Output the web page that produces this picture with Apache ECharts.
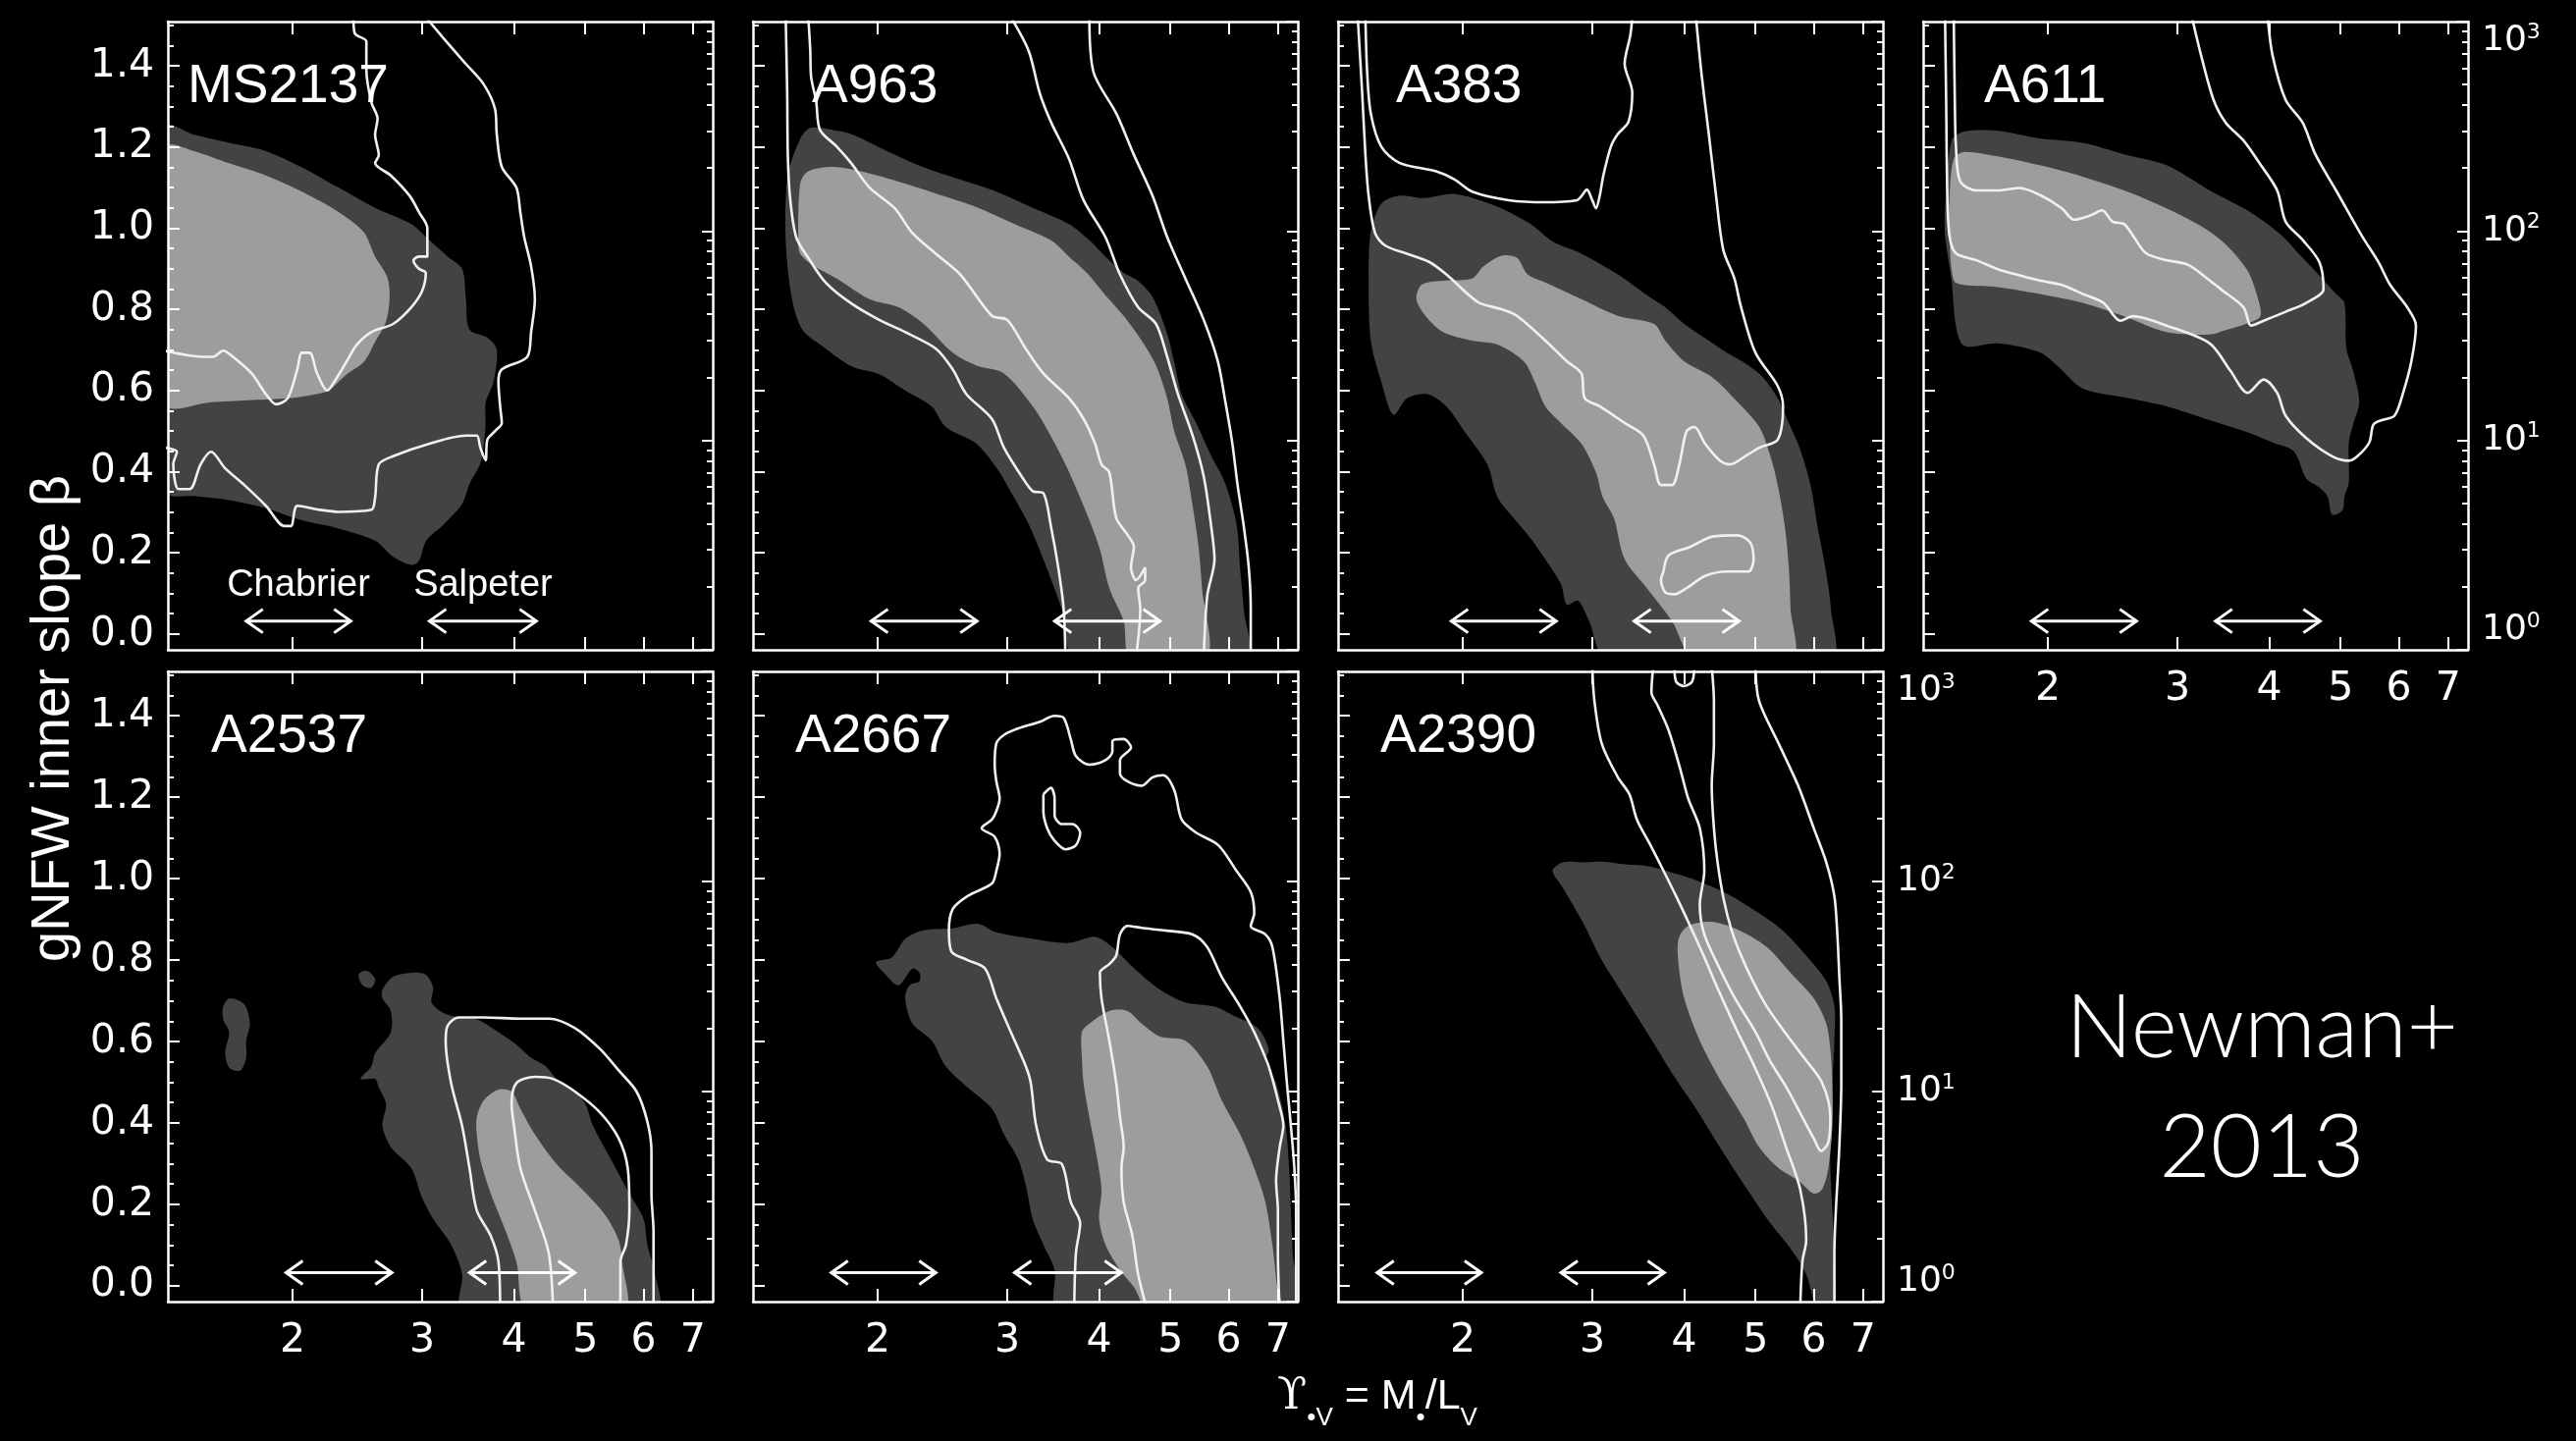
<!DOCTYPE html>
<html><head><meta charset="utf-8">
<script src="https://cdn.jsdelivr.net/npm/echarts@6/dist/echarts.min.js"></script>
<style>html,body{margin:0;padding:0;background:#000;}#c{width:2624px;height:1468px;}</style>
</head><body><div id="c"></div>
<script>
// ---------- axis ticks / labels ----------
const xTickValues = [2, 3, 4, 5, 6, 7];
const yTickValues = [0.0, 0.2, 0.4, 0.6, 0.8, 1.0, 1.2, 1.4];
const massDecades = [0, 1, 2, 3];           // 10^0 .. 10^3
const panelNames = ['MS2137', 'A963', 'A383', 'A611', 'A2537', 'A2667', 'A2390'];
const imfNames = ['Chabrier', 'Salpeter'];

// ---------- MS2137 ----------
const ms2137Dark = [[1.35,1.25],[1.47,1.23],[1.64,1.21],[1.84,1.19],[2.06,1.15],[2.31,1.10],[2.59,1.05],[2.90,1.01],[3.07,0.97],[3.25,0.93],[3.40,0.90],[3.44,0.83],[3.48,0.75],[3.68,0.73],[3.79,0.70],[3.75,0.62],[3.66,0.57],[3.66,0.52],[3.64,0.47],[3.60,0.42],[3.48,0.37],[3.40,0.32],[3.21,0.27],[3.04,0.23],[2.97,0.18],[2.90,0.17],[2.74,0.19],[2.59,0.23],[2.31,0.26],[2.06,0.28],[1.84,0.31],[1.64,0.33],[1.47,0.34],[1.35,0.35]];
const ms2137Light = [[1.35,1.20],[1.47,1.19],[1.64,1.16],[1.84,1.13],[2.06,1.09],[2.31,1.04],[2.50,0.99],[2.59,0.93],[2.69,0.88],[2.71,0.83],[2.68,0.77],[2.59,0.72],[2.50,0.67],[2.37,0.64],[2.24,0.60],[2.14,0.59],[1.95,0.58],[1.74,0.576],[1.55,0.571],[1.35,0.566]];
const ms2137Line68 = [[2.42,1.52],[2.43,1.48],[2.52,1.46],[2.52,1.39],[2.56,1.31],[2.61,1.27],[2.59,1.23],[2.62,1.18],[2.59,1.16],[2.72,1.13],[2.885,1.08],[2.97,1.04],[3.05,1.00],[3.05,0.93],[2.97,0.93],[2.92,0.92],[2.97,0.90],[3.035,0.89],[3.0,0.845],[2.90,0.805],[2.74,0.764],[2.56,0.744],[2.446,0.713],[2.37,0.672],[2.28,0.622],[2.23,0.60],[2.16,0.642],[2.11,0.693],[2.06,0.693],[2.03,0.652],[1.97,0.581],[1.90,0.566],[1.84,0.591],[1.76,0.642],[1.66,0.683],[1.61,0.698],[1.56,0.683],[1.52,0.683],[1.43,0.688],[1.34,0.698]];
const ms2137Line95 = [[3.035,1.52],[3.25,1.456],[3.44,1.405],[3.64,1.354],[3.77,1.293],[3.79,1.232],[3.85,1.151],[4.03,1.10],[4.08,1.039],[4.13,0.978],[4.22,0.906],[4.27,0.825],[4.22,0.744],[4.17,0.683],[3.85,0.652],[3.81,0.622],[3.83,0.561],[3.85,0.52],[3.77,0.50],[3.68,0.479],[3.66,0.428],[3.60,0.459],[3.56,0.489],[3.44,0.489],[3.07,0.469],[2.74,0.438],[2.62,0.418],[2.59,0.337],[2.56,0.306],[2.31,0.301],[2.18,0.306],[2.03,0.316],[1.99,0.266],[1.95,0.266],[1.84,0.316],[1.72,0.367],[1.62,0.408],[1.55,0.449],[1.50,0.418],[1.45,0.357],[1.40,0.357],[1.377,0.418],[1.393,0.449],[1.34,0.459]];
const ms2137Arrows = [[1.73,2.40],[3.07,4.29]];

// ---------- A963 ----------
const a963Dark = [[1.50,0.97],[1.51,1.13],[1.57,1.22],[1.62,1.247],[1.74,1.242],[1.84,1.232],[2.06,1.19],[2.31,1.15],[2.59,1.12],[2.90,1.09],[3.25,1.05],[3.64,1.01],[3.88,0.97],[4.08,0.93],[4.32,0.89],[4.52,0.87],[4.73,0.83],[4.95,0.74],[5.06,0.67],[5.18,0.59],[5.42,0.52],[5.68,0.44],[5.94,0.37],[6.15,0.27],[6.22,0.16],[6.29,0.06],[6.33,-0.06],[3.72,-0.06],[3.56,0.06],[3.40,0.16],[3.21,0.27],[3.035,0.35],[2.90,0.41],[2.72,0.47],[2.475,0.51],[2.37,0.56],[2.18,0.60],[2.01,0.64],[1.84,0.66],[1.68,0.71],[1.58,0.75],[1.53,0.825]];
const a963Light = [[1.56,0.97],[1.57,1.11],[1.61,1.14],[1.74,1.151],[1.95,1.135],[2.18,1.11],[2.45,1.08],[2.74,1.05],[3.07,1.01],[3.44,0.97],[3.64,0.93],[3.85,0.89],[4.08,0.835],[4.32,0.784],[4.57,0.723],[4.78,0.662],[4.95,0.581],[5.06,0.50],[5.24,0.418],[5.36,0.316],[5.46,0.215],[5.52,0.113],[5.59,-0.06],[4.42,-0.06],[4.32,0.032],[4.13,0.113],[4.0,0.215],[3.81,0.316],[3.60,0.418],[3.41,0.50],[3.25,0.561],[2.97,0.642],[2.72,0.662],[2.53,0.693],[2.31,0.764],[2.135,0.805],[1.95,0.825],[1.76,0.876],[1.64,0.906],[1.57,0.937]];
const a963LineA = [[1.50,1.52],[1.507,1.334],[1.51,1.181],[1.52,1.079],[1.55,0.978],[1.61,0.927],[1.70,0.866],[1.84,0.815],[2.01,0.774],[2.18,0.744],[2.40,0.703],[2.53,0.652],[2.64,0.591],[2.86,0.53],[2.97,0.459],[3.14,0.388],[3.25,0.352],[3.36,0.347],[3.44,0.266],[3.52,0.164],[3.58,0.062],[3.60,-0.06]];
const a963LineB = [[1.61,1.52],[1.62,1.436],[1.624,1.374],[1.65,1.313],[1.67,1.242],[1.76,1.201],[1.84,1.161],[1.95,1.10],[2.11,1.049],[2.23,0.988],[2.40,0.937],[2.59,0.886],[2.86,0.784],[3.0,0.774],[3.18,0.703],[3.36,0.642],[3.64,0.581],[3.81,0.53],[3.95,0.469],[4.03,0.418],[4.13,0.398],[4.22,0.286],[4.37,0.245],[4.46,0.215],[4.42,0.164],[4.49,0.133],[4.62,0.164],[4.62,0.133],[4.52,0.113],[4.55,0.062],[4.49,-0.06]];
const a963LineC = [[3.035,1.52],[3.21,1.436],[3.32,1.334],[3.44,1.262],[3.64,1.171],[3.81,1.069],[4.08,0.978],[4.27,0.886],[4.52,0.805],[4.78,0.764],[4.95,0.683],[5.12,0.591],[5.36,0.489],[5.55,0.388],[5.68,0.266],[5.74,0.184],[5.61,0.093],[5.55,-0.06]];
const a963LineD = [[3.88,1.52],[3.93,1.385],[4.22,1.283],[4.46,1.181],[4.73,1.079],[4.95,0.978],[5.24,0.876],[5.55,0.774],[5.80,0.672],[5.94,0.571],[6.07,0.469],[6.17,0.367],[6.29,0.266],[6.39,0.164],[6.43,0.062],[6.43,-0.06]];
const a963Arrows = [[1.96,2.73],[3.48,4.84]];

// ---------- A383 ----------
const a383Dark = [[1.50,0.99],[1.55,1.06],[1.64,1.08],[1.77,1.074],[1.95,1.084],[2.18,1.06],[2.31,1.04],[2.475,1.01],[2.65,0.967],[2.90,0.937],[3.25,0.886],[3.56,0.835],[3.77,0.805],[4.0,0.764],[4.32,0.723],[4.57,0.693],[4.89,0.662],[5.12,0.632],[5.36,0.581],[5.55,0.52],[5.74,0.459],[5.94,0.367],[6.07,0.266],[6.22,0.164],[6.33,0.062],[6.33,-0.06],[3.14,-0.06],[2.97,0.032],[2.87,0.082],[2.77,0.072],[2.72,0.123],[2.59,0.184],[2.475,0.235],[2.37,0.276],[2.23,0.337],[2.16,0.418],[2.01,0.50],[1.90,0.561],[1.79,0.591],[1.68,0.581],[1.61,0.54],[1.55,0.622],[1.50,0.723],[1.49,0.876]];
const a383Light = [[1.73,0.825],[1.76,0.861],[1.90,0.871],[2.06,0.876],[2.135,0.906],[2.26,0.932],[2.37,0.927],[2.45,0.886],[2.59,0.866],[2.90,0.825],[3.25,0.784],[3.64,0.764],[3.77,0.723],[4.0,0.672],[4.37,0.632],[4.73,0.571],[5.06,0.51],[5.24,0.438],[5.36,0.367],[5.48,0.266],[5.55,0.164],[5.58,0.062],[5.61,-0.06],[4.13,-0.06],[3.85,0.032],[3.56,0.113],[3.32,0.184],[3.21,0.286],[3.10,0.337],[3.035,0.398],[2.90,0.469],[2.72,0.52],[2.59,0.561],[2.505,0.622],[2.42,0.672],[2.23,0.713],[2.06,0.723],[1.88,0.744],[1.78,0.784]];
const a383LineA = [[1.44,1.52],[1.46,1.334],[1.475,1.181],[1.49,1.079],[1.52,0.988],[1.57,0.957],[1.68,0.937],[1.80,0.917],[1.90,0.886],[2.04,0.835],[2.11,0.815],[2.26,0.80],[2.37,0.784],[2.59,0.723],[2.77,0.672],[2.90,0.642],[2.93,0.581],[3.07,0.561],[3.32,0.52],[3.52,0.489],[3.64,0.418],[3.72,0.367],[3.85,0.367],[3.94,0.418],[4.03,0.50],[4.13,0.51],[4.27,0.469],[4.47,0.428],[4.62,0.418],[4.84,0.438],[5.06,0.459],[5.36,0.479],[5.45,0.561],[5.36,0.611],[5.0,0.693],[4.78,0.805],[4.68,0.876],[4.52,0.947],[4.42,1.079],[4.32,1.232],[4.22,1.385],[4.15,1.52]];
const a383LineB = [[1.475,1.52],[1.483,1.385],[1.50,1.283],[1.55,1.201],[1.64,1.161],[1.84,1.14],[1.95,1.12],[2.06,1.09],[2.31,1.069],[2.59,1.064],[2.86,1.069],[2.90,1.079],[2.95,1.095],[3.0,1.069],[3.035,1.049],[3.07,1.079],[3.106,1.13],[3.18,1.201],[3.25,1.232],[3.36,1.262],[3.40,1.334],[3.32,1.405],[3.38,1.476],[3.40,1.52]];
const a383Loop = [[3.75,0.154],[3.81,0.194],[4.08,0.215],[4.37,0.24],[4.73,0.243],[4.92,0.225],[4.97,0.184],[4.89,0.154],[4.57,0.154],[4.27,0.143],[4.03,0.113],[3.88,0.098],[3.77,0.103],[3.72,0.133],[3.75,0.154]];
const a383Arrows = [[1.93,2.68],[3.42,4.75]];

// ---------- A611 ----------
const a611Dark = [[1.45,1.05],[1.48,1.216],[1.54,1.238],[1.71,1.24],[1.95,1.221],[2.23,1.21],[2.54,1.182],[2.90,1.155],[3.32,1.093],[3.78,1.038],[4.16,0.982],[4.44,0.927],[4.68,0.883],[4.93,0.838],[5.06,0.816],[5.09,0.705],[5.20,0.649],[5.30,0.572],[5.20,0.516],[5.13,0.472],[5.13,0.372],[5.06,0.339],[5.03,0.305],[4.87,0.294],[4.80,0.339],[4.68,0.361],[4.49,0.383],[4.32,0.45],[4.04,0.472],[3.78,0.494],[3.32,0.527],[2.90,0.561],[2.54,0.583],[2.23,0.605],[2.06,0.661],[1.95,0.694],[1.71,0.716],[1.54,0.71],[1.50,0.76],[1.48,0.871],[1.45,0.982]];
const a611Light = [[1.47,1.071],[1.49,1.171],[1.54,1.188],[1.71,1.177],[1.95,1.155],[2.23,1.127],[2.54,1.093],[2.90,1.049],[3.23,1.005],[3.49,0.96],[3.74,0.894],[3.86,0.827],[3.89,0.783],[3.74,0.766],[3.49,0.749],[3.32,0.738],[2.90,0.744],[2.54,0.783],[2.23,0.816],[1.95,0.838],[1.71,0.855],[1.54,0.86],[1.49,0.871],[1.47,0.982]];
const a611LineA = [[1.45,1.52],[1.455,1.316],[1.46,1.093],[1.47,0.982],[1.50,0.938],[1.60,0.921],[1.71,0.899],[1.95,0.871],[2.09,0.86],[2.23,0.838],[2.38,0.816],[2.51,0.772],[2.61,0.783],[2.90,0.76],[3.32,0.716],[3.54,0.649],[3.74,0.594],[3.93,0.627],[4.10,0.594],[4.21,0.538],[4.49,0.483],[4.87,0.438],[5.13,0.427],[5.27,0.438],[5.47,0.472],[5.54,0.516],[5.69,0.527],[5.92,0.538],[6.08,0.594],[6.24,0.672],[6.33,0.76],[6.16,0.805],[5.84,0.86],[5.63,0.916],[5.34,0.982],[4.93,1.093],[4.62,1.182],[4.44,1.26],[4.21,1.316],[4.04,1.427],[3.98,1.52]];
const a611LineB = [[1.49,1.52],[1.495,1.316],[1.50,1.205],[1.52,1.116],[1.60,1.093],[1.71,1.093],[1.83,1.099],[1.95,1.082],[2.09,1.049],[2.17,1.021],[2.29,1.032],[2.37,1.044],[2.45,1.016],[2.54,1.01],[2.61,0.982],[2.72,0.938],[2.90,0.921],[3.10,0.91],[3.32,0.871],[3.44,0.849],[3.69,0.805],[3.78,0.76],[3.93,0.772],[4.21,0.794],[4.49,0.816],[4.74,0.849],[4.68,0.916],[4.44,0.971],[4.21,1.016],[4.10,1.093],[3.88,1.16],[3.69,1.216],[3.49,1.26],[3.36,1.316],[3.23,1.427],[3.14,1.52]];
const a611Arrows = [[1.90,2.64],[3.38,4.69]];

// ---------- A2537 ----------
const a2537DarkA = [[1.61,0.686],[1.643,0.706],[1.72,0.691],[1.75,0.644],[1.73,0.602],[1.73,0.56],[1.70,0.529],[1.643,0.534],[1.62,0.571],[1.64,0.623],[1.61,0.654]];
const a2537DarkB = [[2.46,0.764],[2.52,0.774],[2.59,0.753],[2.56,0.732],[2.49,0.738]];
const a2537DarkC = [[2.65,0.727],[2.74,0.759],[2.90,0.769],[3.035,0.764],[3.106,0.732],[3.09,0.696],[3.21,0.67],[3.36,0.659],[3.56,0.654],[3.81,0.623],[4.03,0.592],[4.22,0.56],[4.42,0.539],[4.57,0.508],[4.78,0.487],[5.0,0.446],[5.12,0.393],[5.42,0.31],[5.74,0.226],[6.0,0.164],[6.07,0.101],[6.22,0.028],[6.26,-0.06],[3.40,-0.06],[3.40,0.028],[3.285,0.101],[3.106,0.164],[3.0,0.216],[2.90,0.289],[2.72,0.341],[2.65,0.393],[2.68,0.446],[2.62,0.487],[2.59,0.508],[2.475,0.508],[2.56,0.539],[2.59,0.571],[2.72,0.623],[2.72,0.675],[2.65,0.706]];
const a2537Light = [[3.56,0.414],[3.64,0.456],[3.81,0.482],[3.97,0.477],[4.08,0.435],[4.27,0.372],[4.57,0.299],[4.95,0.237],[5.32,0.174],[5.55,0.112],[5.61,0.059],[5.65,-0.06],[4.17,-0.06],[4.03,0.059],[3.88,0.143],[3.72,0.226],[3.60,0.31],[3.56,0.372]];
const a2537LineA = [[3.83,-0.06],[3.81,0.059],[3.72,0.122],[3.56,0.185],[3.48,0.289],[3.40,0.393],[3.285,0.498],[3.23,0.602],[3.25,0.639],[3.36,0.659],[3.64,0.659],[4.08,0.656],[4.46,0.656],[4.84,0.633],[5.24,0.581],[5.55,0.529],[5.87,0.477],[6.07,0.404],[6.15,0.331],[6.15,0.226],[6.19,0.133],[6.19,0.028],[6.19,-0.06]];
const a2537LineB = [[4.52,-0.06],[4.46,0.08],[4.27,0.185],[4.08,0.289],[4.0,0.393],[3.97,0.446],[4.03,0.498],[4.27,0.513],[4.52,0.508],[4.84,0.477],[5.24,0.425],[5.55,0.362],[5.71,0.289],[5.74,0.185],[5.68,0.101],[5.58,0.059],[5.58,-0.06]];
const a2537Arrows = [[1.96,2.73],[3.48,4.84]];

// ---------- A2667 ----------
const a2667Dark = [[1.99,0.795],[2.09,0.806],[2.18,0.852],[2.31,0.873],[2.53,0.878],[2.74,0.889],[2.90,0.868],[3.25,0.852],[3.64,0.842],[3.95,0.857],[4.17,0.832],[4.46,0.78],[4.84,0.727],[5.24,0.696],[5.74,0.686],[6.07,0.665],[6.57,0.633],[6.80,0.581],[6.73,0.55],[6.96,0.498],[7.17,0.393],[7.25,0.289],[7.29,0.185],[7.33,0.08],[7.37,-0.06],[3.52,-0.06],[3.48,0.039],[3.36,0.101],[3.25,0.164],[3.18,0.247],[3.106,0.31],[2.97,0.372],[2.86,0.435],[2.65,0.487],[2.475,0.539],[2.37,0.602],[2.23,0.644],[2.18,0.706],[2.21,0.738],[2.28,0.748],[2.28,0.769],[2.23,0.779],[2.135,0.738],[2.04,0.769]];
const a2667Light = [[3.79,0.623],[3.88,0.644],[4.13,0.675],[4.37,0.675],[4.57,0.644],[4.84,0.612],[5.24,0.602],[5.61,0.539],[5.87,0.456],[6.22,0.372],[6.50,0.289],[6.73,0.206],[6.88,0.101],[6.96,0.018],[7.0,-0.06],[4.68,-0.06],[4.46,-0.003],[4.27,0.039],[4.08,0.101],[4.0,0.164],[4.03,0.237],[3.95,0.341],[3.88,0.414],[3.81,0.498],[3.79,0.56]];
const a2667LineA = [[3.70,-0.06],[3.72,0.08],[3.77,0.153],[3.66,0.206],[3.56,0.299],[3.40,0.31],[3.285,0.393],[3.23,0.498],[3.18,0.539],[3.035,0.623],[2.90,0.706],[2.80,0.779],[2.65,0.80],[2.52,0.821],[2.50,0.873],[2.53,0.925],[2.65,0.957],[2.86,0.988],[2.90,1.019],[2.93,1.061],[2.885,1.103],[2.77,1.124],[2.86,1.145],[2.90,1.166],[2.93,1.197],[2.90,1.239],[2.885,1.28],[2.90,1.332],[2.97,1.353],[3.106,1.369],[3.32,1.385],[3.48,1.40],[3.58,1.395],[3.66,1.343],[3.72,1.301],[3.88,1.28],[4.08,1.291],[4.17,1.312],[4.17,1.338],[4.32,1.343],[4.42,1.322],[4.27,1.291],[4.27,1.259],[4.37,1.239],[4.57,1.228],[4.73,1.249],[4.89,1.254],[5.06,1.218],[5.18,1.145],[5.42,1.113],[5.81,1.082],[6.15,1.019],[6.43,0.967],[6.50,0.915],[6.43,0.883],[6.73,0.863],[6.88,0.832],[7.04,0.706],[7.12,0.602],[7.20,0.498],[7.29,0.393],[7.37,0.289],[7.41,0.185],[7.41,0.08],[7.41,-0.06]];
const a2667LineB = [[4.65,-0.06],[4.52,0.028],[4.44,0.122],[4.32,0.206],[4.29,0.289],[4.32,0.341],[4.27,0.414],[4.22,0.498],[4.13,0.602],[4.03,0.706],[4.01,0.769],[4.13,0.79],[4.22,0.811],[4.27,0.863],[4.37,0.884],[4.57,0.879],[4.89,0.873],[5.36,0.863],[5.61,0.832],[5.87,0.759],[6.22,0.686],[6.50,0.623],[6.80,0.539],[7.0,0.456],[7.12,0.393],[7.04,0.341],[6.96,0.258],[7.0,0.185],[7.0,0.08],[7.04,-0.06]];
const a2667Loop = [[3.36,1.207],[3.44,1.223],[3.48,1.197],[3.48,1.155],[3.56,1.134],[3.68,1.134],[3.77,1.113],[3.72,1.082],[3.60,1.072],[3.48,1.093],[3.40,1.124],[3.36,1.166],[3.36,1.207]];
const a2667Arrows = [[1.73,2.40],[3.07,4.29]];

// ---------- A2390 ----------
const a2390Dark = [[2.65,1.019],[2.735,1.04],[2.91,1.04],[3.09,1.042],[3.33,1.035],[3.59,1.03],[3.95,1.009],[4.26,0.988],[4.64,0.957],[5.055,0.915],[5.44,0.873],[5.86,0.811],[6.24,0.748],[6.40,0.686],[6.40,0.602],[6.36,0.498],[6.32,0.393],[6.32,0.289],[6.36,0.185],[6.40,0.08],[6.40,-0.06],[6.08,-0.06],[5.86,0.028],[5.58,0.091],[5.24,0.153],[4.87,0.237],[4.47,0.341],[4.15,0.435],[3.86,0.519],[3.59,0.612],[3.33,0.706],[3.09,0.80],[2.91,0.894],[2.735,0.978]];
const a2390Light = [[3.93,0.852],[4.05,0.884],[4.36,0.894],[4.75,0.873],[5.18,0.832],[5.58,0.769],[6.0,0.706],[6.24,0.644],[6.32,0.581],[6.36,0.498],[6.36,0.393],[6.28,0.289],[6.16,0.237],[6.0,0.226],[5.72,0.258],[5.375,0.289],[5.055,0.341],[4.81,0.414],[4.47,0.508],[4.2,0.602],[4.0,0.706],[3.93,0.79]];
const a2390LineA = [[3.0,1.52],[3.02,1.437],[3.09,1.332],[3.25,1.249],[3.37,1.207],[3.45,1.145],[3.60,1.082],[3.75,1.019],[3.90,0.957],[4.05,0.894],[4.25,0.811],[4.45,0.727],[4.70,0.633],[4.95,0.55],[5.25,0.446],[5.50,0.341],[5.75,0.237],[5.86,0.112],[5.79,0.059],[5.75,-0.06]];
const a2390LineB = [[3.63,1.52],[3.61,1.458],[3.68,1.426],[3.81,1.364],[3.95,1.27],[4.05,1.197],[4.2,1.124],[4.26,1.019],[4.2,0.936],[4.26,0.863],[4.47,0.779],[4.69,0.706],[5.0,0.623],[5.24,0.55],[5.51,0.487],[5.79,0.414],[6.0,0.362],[6.14,0.331],[6.28,0.352],[6.32,0.414],[6.16,0.498],[5.82,0.56],[5.48,0.623],[5.18,0.686],[4.96,0.748],[4.78,0.811],[4.64,0.873],[4.53,0.946],[4.44,1.04],[4.39,1.124],[4.36,1.228],[4.39,1.332],[4.39,1.437],[4.36,1.52]];
const a2390LineC = [[5.0,1.52],[5.055,1.437],[5.375,1.332],[5.715,1.228],[6.0,1.124],[6.24,1.04],[6.40,0.957],[6.46,0.863],[6.50,0.759],[6.54,0.654],[6.54,0.498],[6.50,0.341],[6.43,0.185],[6.40,0.08],[6.40,-0.06]];
const a2390Loop = [[3.88,1.52],[3.90,1.484],[4.0,1.473],[4.10,1.484],[4.13,1.52]];
const a2390Arrows = [[1.53,2.12],[2.72,3.76]];

// ---------- assemble ----------
const panels = [
  {dark:[ms2137Dark], light:[ms2137Light], lines:[ms2137Line68, ms2137Line95], arrows:ms2137Arrows, imf:true},
  {dark:[a963Dark], light:[a963Light], lines:[a963LineA, a963LineB, a963LineC, a963LineD], arrows:a963Arrows},
  {dark:[a383Dark], light:[a383Light], lines:[a383LineA, a383LineB, a383Loop], arrows:a383Arrows},
  {dark:[a611Dark], light:[a611Light], lines:[a611LineA, a611LineB], arrows:a611Arrows},
  {dark:[a2537DarkA, a2537DarkB, a2537DarkC], light:[a2537Light], lines:[a2537LineA, a2537LineB], arrows:a2537Arrows},
  {dark:[a2667Dark], light:[a2667Light], lines:[a2667LineA, a2667LineB, a2667Loop], arrows:a2667Arrows},
  {dark:[a2390Dark], light:[a2390Light], lines:[a2390LineA, a2390LineB, a2390LineC, a2390Loop], arrows:a2390Arrows}
];

// ---------- layout ----------
const L10 = Math.log10;
const X_MIN = 1.354, X_MAX = 7.45, Y_MIN = -0.039, Y_MAX = 1.509;
const colLeft = [171, 767, 1363, 1959], PW = 555;
const rowTop = [22, 684], rowH = [640, 642];
const cell = [[0,0],[1,0],[2,0],[3,0],[0,1],[1,1],[2,1]];
const nameOffset = [20, 60, 59, 62, 44, 43, 43];
const showXLabels = [false,false,false,true,true,true,true];
const showYLabels = [true,false,false,false,true,false,false];
const showRLabels = [false,false,false,true,false,false,true];
const DARK = '#434343', LIGHT = '#9d9d9d', LINE = '#f0f0f0', WHITE = '#ffffff';
const TICKFONT = 'DejaVu Sans';

const yMinor = []; for (let i = 0; i <= 30; i++) yMinor.push(+(i*0.05).toFixed(2));
const mMinor = []; [0,1,2].forEach(d => { for (let k = 2; k <= 9; k++) mMinor.push(d + L10(k)); });

const grids = [], xAxes = [], yAxes = [], series = [];
const axLine = {show:true, onZero:false, lineStyle:{color:WHITE, width:2.5}};
const noLine = {show:false, onZero:false};

cell.forEach((c, g) => {
  grids.push({left: colLeft[c[0]], top: rowTop[c[1]], width: PW, height: rowH[c[1]]});
  const xt = xTickValues.map(L10);
  ['bottom','top'].forEach((pos, k) => {
    xAxes.push({gridIndex:g, type:'value', position:pos, min:L10(X_MIN), max:L10(X_MAX), z:10,
      axisLine:axLine, splitLine:{show:false},
      axisTick:{show:true, inside:true, length:13, lineStyle:{color:WHITE, width:2}, customValues:xt},
      axisLabel:{show: k===0 && showXLabels[g], customValues:xt, formatter:v => String(Math.round(Math.pow(10, v))),
        color:WHITE, fontSize:41, fontFamily:TICKFONT, margin:20}});
  });
  yAxes.push({gridIndex:g, type:'value', position:'left', min:Y_MIN, max:Y_MAX, z:10, axisLine:axLine, splitLine:{show:false},
    axisTick:{show:true, inside:true, length:12, lineStyle:{color:WHITE, width:2}, customValues:yTickValues},
    axisLabel:{show:showYLabels[g], customValues:yTickValues, formatter:v => v.toFixed(1), color:WHITE, fontSize:41, fontFamily:TICKFONT, margin:14}});
  yAxes.push({gridIndex:g, type:'value', position:'left', min:Y_MIN, max:Y_MAX, z:10, axisLine:noLine, splitLine:{show:false},
    axisTick:{show:true, inside:true, length:6, lineStyle:{color:WHITE, width:2}, customValues:yMinor}, axisLabel:{show:false}});
  yAxes.push({gridIndex:g, type:'value', position:'right', min:0, max:3, z:10, axisLine:axLine, splitLine:{show:false},
    axisTick:{show:true, inside:true, length:11, lineStyle:{color:WHITE, width:2}, customValues:massDecades},
    axisLabel:{show:showRLabels[g], customValues:massDecades, margin:14,
      verticalAlignMinLabel:'bottom', verticalAlignMaxLabel:'top',
      formatter:v => '{b|10}{s|' + Math.round(v) + '}',
      rich:{b:{fontSize:36, fontFamily:TICKFONT, color:WHITE, lineHeight:40},
            s:{fontSize:22, fontFamily:TICKFONT, color:WHITE, lineHeight:22, verticalAlign:'top'}}}});
  yAxes.push({gridIndex:g, type:'value', position:'right', min:0, max:3, z:10, axisLine:noLine, splitLine:{show:false},
    axisTick:{show:true, inside:true, length:6, lineStyle:{color:WHITE, width:2}, customValues:mMinor}, axisLabel:{show:false}});

  const p = panels[g];
  const xi = 2*g, yi = 4*g;
  const poly = (pts, color) => {
    const d = pts.map(q => [L10(q[0]), q[1]]);
    series.push({type:'custom', xAxisIndex:xi, yAxisIndex:yi, clip:true, silent:true, z:2,
      data:[d[0]],
      renderItem:(params, api) => ({type:'polygon', shape:{points:d.map(q => api.coord(q)), smooth:0.3}, style:{fill:color}})});
  };
  p.dark.forEach(s => poly(s, DARK));
  p.light.forEach(s => poly(s, LIGHT));
  p.lines.forEach(s => series.push({type:'line', xAxisIndex:xi, yAxisIndex:yi, silent:true, z:3, clip:true,
    symbol:'none', smooth:0.3, lineStyle:{color:LINE, width:2.6},
    data:s.map(q => [L10(q[0]), q[1]])}));
  series.push({type:'custom', xAxisIndex:xi, yAxisIndex:yi, silent:true, z:4,
    data:p.arrows.map((a, i) => [L10(a[0]), L10(a[1]), 0.032, i]),
    renderItem:(params, api) => {
      const y = api.value(2);
      const p1 = api.coord([api.value(0), y]), p2 = api.coord([api.value(1), y]);
      const hl = 17, hw = 12, st = {stroke:WHITE, lineWidth:3, fill:null};
      const kids = [
        {type:'line', shape:{x1:p1[0], y1:p1[1], x2:p2[0], y2:p2[1]}, style:st},
        {type:'polyline', shape:{points:[[p1[0]+hl, p1[1]-hw], p1, [p1[0]+hl, p1[1]+hw]]}, style:st},
        {type:'polyline', shape:{points:[[p2[0]-hl, p2[1]-hw], p2, [p2[0]-hl, p2[1]+hw]]}, style:st}
      ];
      if (p.imf) {
        const c = api.coord([(api.value(0) + api.value(1)) / 2, 0.073]);
        kids.push({type:'text', x:c[0], y:c[1], style:{text:imfNames[api.value(3)], fill:WHITE, fontSize:38,
          fontFamily:'Liberation Sans', align:'center', verticalAlign:'bottom'}});
      }
      return {type:'group', children:kids};
    }});
});

const graphic = panelNames.map((n, g) => ({type:'text', x: colLeft[cell[g][0]] + nameOffset[g], y: rowTop[cell[g][1]] + 67, z:20,
  style:{text:n, fill:WHITE, fontSize:55, fontFamily:'Liberation Sans', verticalAlign:'middle'}}));
graphic.push({type:'text', x:55, y:732, rotation:Math.PI/2, z:20,
  style:{text:'gNFW inner slope β', fill:WHITE, fontSize:56, fontFamily:'Liberation Sans', align:'center', verticalAlign:'middle'}});
graphic.push({type:'text', x:1403, y:1430, z:20,
  style:{text:'{u|ϒ}{s|•V}{m| = M}{s|•}{m|/L}{s|V}', align:'center', verticalAlign:'middle',
    rich:{u:{fontSize:44, fontFamily:'DejaVu Serif', fill:WHITE, color:WHITE, lineHeight:56, verticalAlign:'top'},
          m:{fontSize:43, fontFamily:'Liberation Sans', fill:WHITE, color:WHITE, lineHeight:56, verticalAlign:'top'},
          s:{fontSize:26, fontFamily:'Liberation Sans', fill:WHITE, color:WHITE, lineHeight:26, verticalAlign:'bottom'}}}});
graphic.push({type:'text', x:2304, y:1048, z:20,
  style:{text:'Newman+', fill:WHITE, fontSize:90, fontWeight:300, fontFamily:'Lato', align:'center', verticalAlign:'middle'}});
graphic.push({type:'text', x:2304, y:1170, z:20,
  style:{text:'2013', fill:WHITE, fontSize:90, fontWeight:300, fontFamily:'Lato', align:'center', verticalAlign:'middle'}});

const chart = echarts.init(document.getElementById('c'), null, {renderer:'canvas'});
chart.setOption({
  backgroundColor:'#000', animation:false,
  textStyle:{fontFamily:'Liberation Sans', color:WHITE},
  grid:grids, xAxis:xAxes, yAxis:yAxes, series:series, graphic:graphic
});
</script></body></html>
